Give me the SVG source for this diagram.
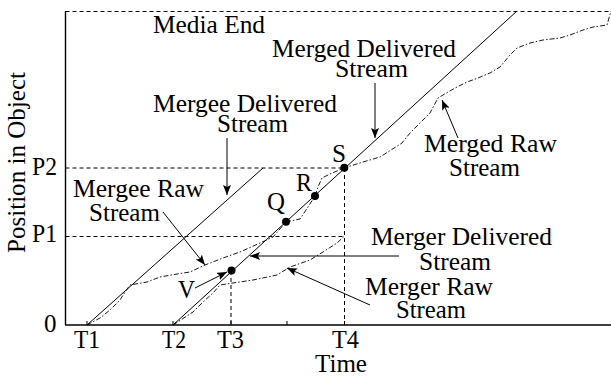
<svg xmlns="http://www.w3.org/2000/svg" width="611" height="376" viewBox="0 0 611 376">
  <style>
    text { font-family: "Liberation Serif", serif; font-size: 25px; fill: #000; }
    .axis { stroke: #000; stroke-width: 1.4; fill: none; }
    .solid { stroke: #000; stroke-width: 1; fill: none; }
    .dash { stroke: #000; stroke-width: 1; fill: none; stroke-dasharray: 4 3; }
    .raw { stroke: #000; stroke-width: 0.9; fill: none; stroke-dasharray: 5 2 1.5 2; }
    .lead { stroke: #000; stroke-width: 1; fill: none; marker-end: url(#arrow); }
    .dot { fill: #000; }
  </style>
  <defs>
    <marker id="arrow" viewBox="0 0 10 8" refX="10" refY="4" markerWidth="10" markerHeight="8" markerUnits="userSpaceOnUse" orient="auto">
      <path d="M0,0 L10,4 L0,8 L2,4 Z" fill="#000"/>
    </marker>
  </defs>

  <!-- axes and reference levels -->
  <g id="axes">
    <line class="axis" x1="65.5" y1="11" x2="65.5" y2="325"/>
    <line class="axis" x1="65" y1="325" x2="611" y2="325"/>
    <line class="dash" x1="65.5" y1="11.5" x2="611" y2="11.5"/>
    <line class="dash" x1="65.5" y1="168" x2="344" y2="168"/>
    <line class="dash" x1="65.5" y1="236.5" x2="344" y2="236.5"/>
    <line class="dash" x1="344.5" y1="168" x2="344.5" y2="325"/>
    <line class="dash" x1="231" y1="271" x2="231" y2="325"/>
    <g class="solid">
      <line x1="87" y1="321" x2="87" y2="325"/>
      <line x1="173" y1="321" x2="173" y2="325"/>
      <line x1="231" y1="321" x2="231" y2="325"/>
      <line x1="287" y1="321" x2="287" y2="325"/>
      <line x1="344.5" y1="321" x2="344.5" y2="325"/>
    </g>
    <text x="44" y="332">0</text>
    <text x="32" y="242" textLength="25" lengthAdjust="spacingAndGlyphs">P1</text>
    <text x="32" y="175" textLength="25" lengthAdjust="spacingAndGlyphs">P2</text>
    <text x="74" y="348" textLength="26" lengthAdjust="spacingAndGlyphs">T1</text>
    <text x="162" y="348" textLength="24" lengthAdjust="spacingAndGlyphs">T2</text>
    <text x="217" y="348" textLength="27" lengthAdjust="spacingAndGlyphs">T3</text>
    <text x="332" y="348" textLength="27" lengthAdjust="spacingAndGlyphs">T4</text>
    <text x="315" y="372" textLength="52" lengthAdjust="spacingAndGlyphs">Time</text>
    <text transform="translate(25,162.5) rotate(-90)" text-anchor="middle" textLength="181" lengthAdjust="spacingAndGlyphs">Position in Object</text>
    <text x="153" y="33" textLength="112" lengthAdjust="spacingAndGlyphs">Media End</text>
  </g>

  <!-- delivered and raw streams -->
  <g id="mergee-delivered">
    <line class="solid" x1="87" y1="325" x2="263" y2="168"/>
  </g>
  <g id="merger-delivered">
    <line class="solid" x1="173" y1="325" x2="517" y2="11"/>
  </g>
  <g id="mergee-raw">
    <polyline class="raw" points="87,325 100,318 110,310 120,300 125,292 130,285 147,282 160,277 177,274 190,272 205,265 223,258 240,252 260,243 273,237 286,222"/>
  </g>
  <g id="merger-raw">
    <polyline class="raw" points="173,325 193,312 203,302 213,293 220,285 233,283 253,280 277,275 290,267 310,260 323,252 337,243 344,236.5"/>
  </g>
  <g id="merged-raw">
    <polyline class="raw" points="286,222 300,219 308,207 315,196 318,187 322,178 330,174 344,168 363,162 380,157 402,143 410,133 430,113 438,98 448,92 457,87 467,82 478,78 490,73 500,67 510,55 517,48 530,43 543,40 560,38 570,35 583,30 593,27 607,25 611,11"/>
  </g>

  <!-- merge points -->
  <g id="point-V">
    <circle class="dot" cx="231.5" cy="270.5" r="4"/>
    <text x="178" y="298" textLength="17" lengthAdjust="spacingAndGlyphs">V</text>
  </g>
  <g id="point-Q">
    <circle class="dot" cx="286" cy="221.7" r="4"/>
    <text x="267" y="210" textLength="18" lengthAdjust="spacingAndGlyphs">Q</text>
  </g>
  <g id="point-R">
    <circle class="dot" cx="315" cy="196" r="4"/>
    <text x="296" y="191" textLength="16" lengthAdjust="spacingAndGlyphs">R</text>
  </g>
  <g id="point-S">
    <circle class="dot" cx="344.3" cy="167.7" r="4"/>
    <text x="332" y="162" textLength="14" lengthAdjust="spacingAndGlyphs">S</text>
  </g>

  <!-- stream labels -->
  <g id="label-merged-delivered">
    <text x="272" y="57" textLength="184" lengthAdjust="spacingAndGlyphs">Merged Delivered</text>
    <text x="335" y="77" textLength="73" lengthAdjust="spacingAndGlyphs">Stream</text>
  </g>
  <g id="label-mergee-delivered">
    <text x="153" y="112" textLength="184" lengthAdjust="spacingAndGlyphs">Mergee Delivered</text>
    <text x="217" y="132" textLength="71" lengthAdjust="spacingAndGlyphs">Stream</text>
  </g>
  <g id="label-merged-raw">
    <text x="424" y="152" textLength="133" lengthAdjust="spacingAndGlyphs">Merged Raw</text>
    <text x="449" y="176" textLength="71" lengthAdjust="spacingAndGlyphs">Stream</text>
  </g>
  <g id="label-mergee-raw">
    <text x="73" y="197" textLength="131" lengthAdjust="spacingAndGlyphs">Mergee Raw</text>
    <text x="89" y="221" textLength="71" lengthAdjust="spacingAndGlyphs">Stream</text>
  </g>
  <g id="label-merger-delivered">
    <text x="371" y="245" textLength="181" lengthAdjust="spacingAndGlyphs">Merger Delivered</text>
    <text x="419" y="270" textLength="72" lengthAdjust="spacingAndGlyphs">Stream</text>
  </g>
  <g id="label-merger-raw">
    <text x="365" y="295" textLength="128" lengthAdjust="spacingAndGlyphs">Merger Raw</text>
    <text x="396" y="318" textLength="70" lengthAdjust="spacingAndGlyphs">Stream</text>
  </g>

  <!-- leader arrows -->
  <g id="connectors">
    <line class="lead" x1="375" y1="83" x2="375" y2="138"/>
    <line class="lead" x1="227" y1="138" x2="227" y2="195"/>
    <line class="lead" x1="458" y1="138" x2="442" y2="100"/>
    <line class="lead" x1="163" y1="212" x2="205" y2="265"/>
    <line class="lead" x1="195" y1="288" x2="227" y2="272"/>
    <line class="lead" x1="399" y1="256" x2="250" y2="256"/>
    <line class="lead" x1="370" y1="305" x2="287" y2="268"/>
  </g>
</svg>
